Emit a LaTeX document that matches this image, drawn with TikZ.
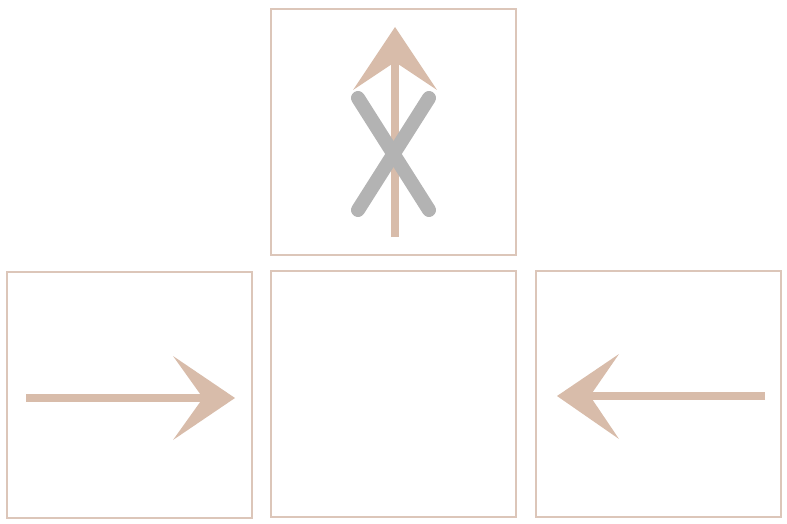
\documentclass[tikz,border=0pt]{standalone}
\begin{document}
\begin{tikzpicture}[x=1pt,y=-1pt,
  panel/.style={draw=boxc,line width=1.6pt},
  shaft/.style={draw=tan,line width=8pt},
  head/.style={fill=tan},
  cross/.style={draw=grayc,line width=14pt,line cap=round}]
\definecolor{tan}{HTML}{D8BCAA}
\definecolor{boxc}{HTML}{DCC6B9}
\definecolor{grayc}{HTML}{B3B3B3}
\useasboundingbox (0,0) rectangle (787,524);
% panels
\draw[panel] (271,9) rectangle (516,255);
\draw[panel] (7,272) rectangle (252,518);
\draw[panel] (271,271) rectangle (516,517);
\draw[panel] (536,271) rectangle (781,517);
% top arrow
\draw[shaft] (395,237) -- (395,60);
\fill[head] (395,27) -- (437,90) -- (395,62) -- (353,90) -- cycle;
% cross
\draw[cross] (358,98) -- (429,210);
\draw[cross] (429,98) -- (358,210);
% left-panel arrow
\draw[shaft] (26,398) -- (206,398);
\fill[head] (235,398) -- (173,356) -- (203,398) -- (173,440) -- cycle;
% right-panel arrow
\draw[shaft] (765,396) -- (587,396);
\fill[head] (557,396) -- (619,354) -- (590,396) -- (619,439) -- cycle;
\end{tikzpicture}
\end{document}
